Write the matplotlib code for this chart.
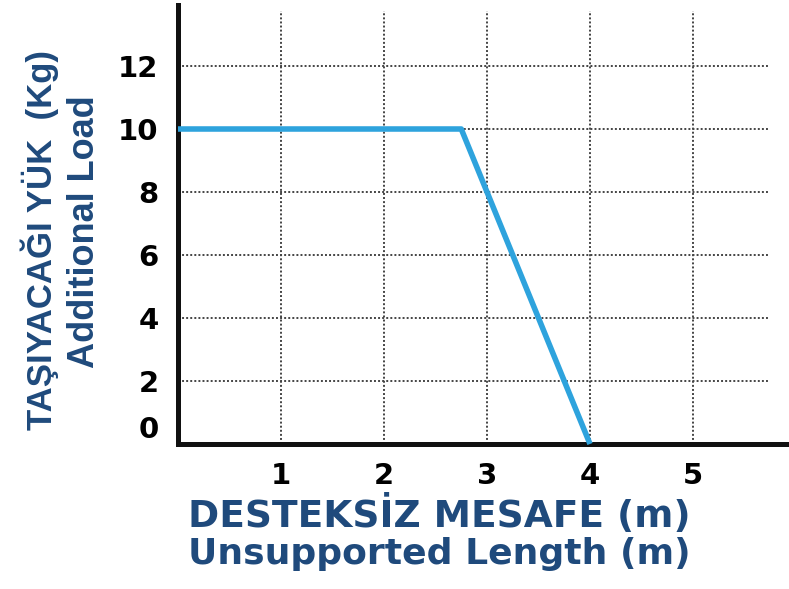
import matplotlib.pyplot as plt
from matplotlib.transforms import ScaledTranslation

# data
length_m = [0.0, 2.75, 4.0]
load_kg = [10.0, 10.0, 0.0]
x_ticks = [1, 2, 3, 4, 5]
y_ticks = [0, 2, 4, 6, 8, 10, 12]

line_color = '#2ea3dd'
label_color = '#1f4a7c'

fig = plt.figure(figsize=(7.89, 5.89), dpi=100)
ax = fig.add_axes([178 / 789, 1 - 444 / 589, 1 - 178 / 789, 439 / 589])

ax.set_xlim(0, 611 / 103)
ax.set_ylim(0, 439 / 31.5)

# dotted grid, stops short of the right edge
ax.hlines(y_ticks[1:], 0, 5.73, colors='#444444', linestyles=(0, (1, 1.1)), linewidth=1.4, zorder=1)
ax.vlines(x_ticks, 0, 13.75, colors='#444444', linestyles=(0, (1, 1.1)), linewidth=1.4, zorder=1)

ax.plot(length_m, load_kg, color=line_color, linewidth=4.0, solid_capstyle='butt', zorder=3, clip_on=False)

for side in ['top', 'right']:
    ax.spines[side].set_visible(False)
for side in ['left', 'bottom']:
    ax.spines[side].set_linewidth(3.6)
    ax.spines[side].set_color('#111111')

ax.set_xticks(x_ticks)
ax.set_yticks(y_ticks)
ax.tick_params(axis='x', length=0, labelsize=21, pad=13)
ax.tick_params(axis='y', length=0, labelsize=21, pad=14)
for lab in ax.get_xticklabels() + ax.get_yticklabels():
    lab.set_fontweight('bold')
    lab.set_fontfamily(['DejaVu Sans'])

# the "0" label sits a bit above the axis in the original
zero = ax.yaxis.get_major_ticks()[0].label1
zero.set_transform(zero.get_transform() + ScaledTranslation(0, 17 / 100, fig.dpi_scale_trans))

# axis titles
fig.text(188 / 789, 1 - 527 / 589, 'DESTEKSİZ MESAFE (m)', fontsize=27, fontweight='bold',
         color=label_color, family=['DejaVu Sans'], ha='left', va='baseline')
fig.text(188 / 789, 1 - 564 / 589, 'Unsupported Length (m)', fontsize=26, fontweight='bold',
         color=label_color, family=['DejaVu Sans'], ha='left', va='baseline')

fig.text(40 / 789, 1 - 240 / 589, 'TAŞIYACAĞI YÜK  (Kg)', fontsize=25, fontweight='bold', rotation=90,
         color=label_color, family=['Liberation Sans', 'DejaVu Sans'], ha='center', va='center')
fig.text(84 / 789, 1 - 232 / 589, 'Additional Load', fontsize=26, fontweight='bold', rotation=90,
         color=label_color, family=['Liberation Sans', 'DejaVu Sans'], ha='center', va='center')

fig.savefig('out.png', dpi=100)
